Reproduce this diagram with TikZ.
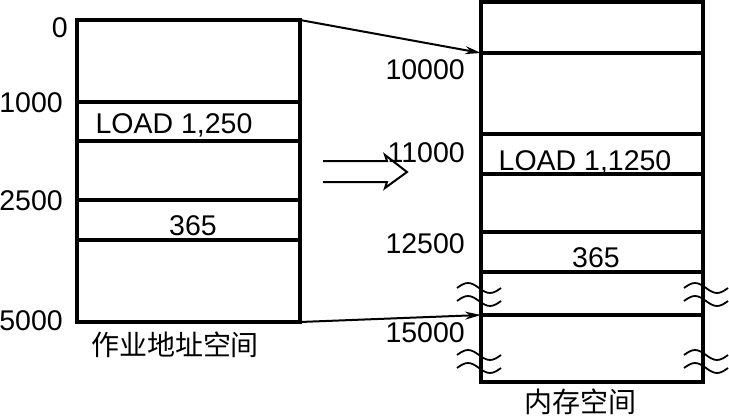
\documentclass[tikz,border=0pt]{standalone}
\usepackage{fontspec}
\setmainfont{Liberation Sans}
\newfontfamily\cjk{Noto Sans CJK SC}
\usetikzlibrary{arrows.meta,positioning}

\begin{document}
\begin{tikzpicture}[x=1pt,y=-1pt,every node/.style={font=\fontsize{28.5}{30}\selectfont,inner sep=0pt},
  seg/.style={line width=3.2pt},
  map/.style={line width=2pt,-{Stealth[length=16pt,width=8pt]}},
  addr/.style={anchor=base east},
  cell/.style={anchor=base},
  brk/.pic={\draw[line width=1.8pt] (0,0) sin (11,-5) cos (22,0) sin (33,5) cos (44,0);
            \draw[line width=1.8pt] (0,13) sin (11,8) cos (22,13) sin (33,18) cos (44,13);}]
\useasboundingbox (0,0) rectangle (729,420);
% job address space
\coordinate (j0) at (300,20);
\coordinate (j5) at (300,322);
\draw[seg] (77,20) rectangle (j5);
\foreach \y in {102,141,200,240} \draw[seg] (77,\y) -- (300,\y);
\node[addr] (a0) at (68,38) {0};
\node[addr] (a1) at (63,113) {1000};
\node[addr] (a2) at (63,210) {2500};
\node[addr] (a3) at (63,330) {5000};
\node[cell] (ld1) at (174,133) {LOAD 1,250};
\node[cell] (v1) at (193,235) {365};
\node[font=\cjk\fontsize{28}{30}\selectfont] (jt) at (175,345) {作业地址空间};
% memory space
\coordinate (m1) at (481,53);
\coordinate (m5) at (481,315);
\draw[seg] (481,2) rectangle (703,382);
\foreach \y in {53,134,174,232,272,315} \draw[seg] (481,\y) -- (703,\y);
\node[addr] (b0) at (465,80) {10000};
\node[addr] (b1) at (465,162) {11000};
\node[addr] (b2) at (465,253) {12500};
\node[addr] (b3) at (465,342) {15000};
\node[cell] (ld2) at (585,170) {LOAD 1,1250};
\node[cell] (v2) at (596,267) {365};
\node[font=\cjk\fontsize{28}{30}\selectfont] (mt) at (580,402) {内存空间};
% breaks
\pic at (457,288) {brk};
\pic at (457,355) {brk};
\pic at (684,288) {brk};
\pic at (684,355) {brk};
% mapping
\draw[map] (j0) -- (m1);
\draw[map] (j5) -- (m5);
\draw[line width=2pt] (323,161) -- (387,161) -- (385,155) -- (407,172) -- (385,188) -- (387,182) -- (323,182);
\end{tikzpicture}
\end{document}
